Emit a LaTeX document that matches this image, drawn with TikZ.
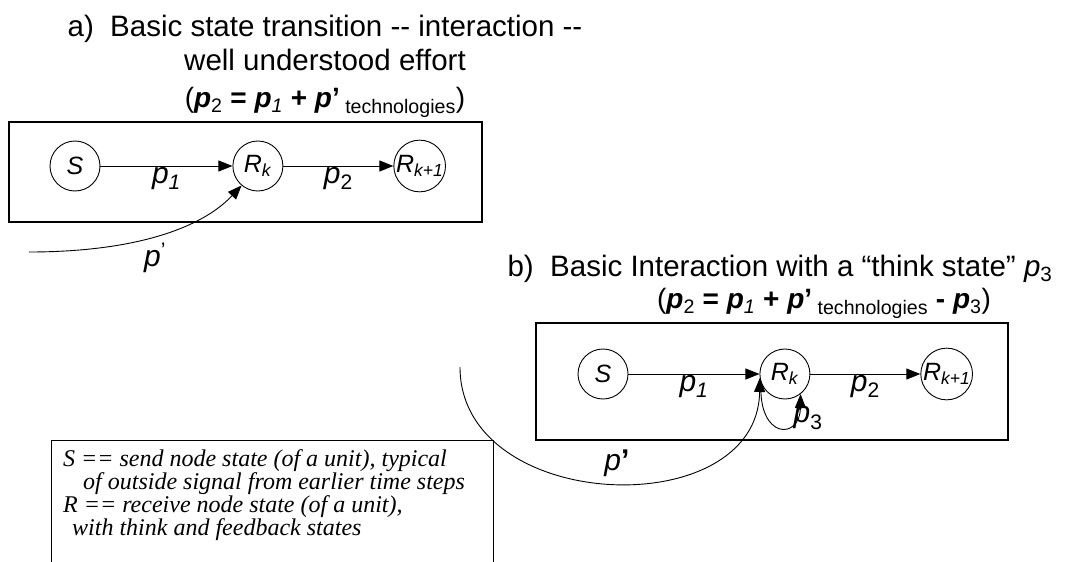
\documentclass[tikz,border=0pt]{standalone}
\usepackage{fontspec}
\setmainfont{Liberation Sans}[Ligatures=TeXOff]
\newfontfamily\legendfont{Liberation Serif}[Ligatures=TeXOff]
\usetikzlibrary{arrows.meta,positioning}

\newcommand{\titlesize}{\fontsize{29.5}{34}\selectfont}
\newcommand{\eqsize}{\fontsize{28}{34}\selectfont}
\newcommand{\lblsize}{\fontsize{30}{30}\selectfont}
\newcommand{\statesize}{\fontsize{25}{25}\selectfont}
\newcommand{\bp}{\textbf{\textit{p}}}

\begin{document}
\begin{tikzpicture}[
    x=1pt, y=1pt,
    >={Triangle[length=14pt, width=11pt]},
    state/.style={draw, circle, line width=0.9pt, minimum size=50pt, inner sep=0pt, font=\statesize},
    panel/.style={draw, line width=1.1pt, inner sep=0pt},
    title/.style={align=center, inner sep=0pt, font=\titlesize},
    lbl/.style={inner sep=1pt, font=\lblsize},
    arr/.style={->, line width=0.9pt},
]
\useasboundingbox (0,0) rectangle (1076,-562);

% a) title
\node[title, anchor=north] (titlea) at (325,-15) {a)\ \ Basic state transition -- interaction --\\ well understood effort\\[3pt]
    \eqsize(\bp\textsubscript{2} \textbf{=} \bp\textsubscript{\textit{1}} \textbf{+} \bp\textbf{’}\textsubscript{ technologies})};

% a) panel
\node[panel, minimum width=473pt, minimum height=100pt] (boxa) at (245.5,-172) {};
\node[state] (Sa) at (75,-166) {\textit{S}};
\node[state, right=132pt of Sa] (Rka) {\textit{R}\textsubscript{\textit{k}}};
\node[state, right=110pt of Rka] (Rk1a) {\textit{R}\textsubscript{\textit{k+1}}};

\draw[arr] (Sa) -- (Rka) node[lbl, midway, below] (p1a) {\textit{p}\textsubscript{\textit{1}}};
\draw[arr] (Rka) -- (Rk1a) node[lbl, midway, below] (p2a) {\textit{p}\textsubscript{2}};

% outside signal a)
\coordinate (pina) at (29,-252);
\draw[arr] (pina) .. controls (130,-252) and (200,-230) .. (Rka.230);
\node[lbl] (pprimea) at (155,-258) {\textit{p}\textsuperscript{’}};

% b) title
\node[title, anchor=base] (titleb) at (780,-276) {b)\ \ Basic Interaction with a “think state” \textit{p}\textsubscript{3}};
\node[title, font=\eqsize, below=6pt of titleb, xshift=44pt] (eqb) {(\bp\textsubscript{2} \textbf{=} \bp\textsubscript{\textit{1}} \textbf{+} \bp\textbf{’}\textsubscript{ technologies} \textbf{-} \bp\textsubscript{3})};

% b) panel
\node[panel, minimum width=472pt, minimum height=117pt] (boxb) at (772,-381.5) {};
\node[state] (Sb) at (603,-374) {\textit{S}};
\node[state, right=131pt of Sb] (Rkb) {\textit{R}\textsubscript{\textit{k}}};
\node[state, right=110pt of Rkb] (Rk1b) {\textit{R}\textsubscript{\textit{k+1}}};

\draw[arr] (Sb) -- (Rkb) node[lbl, midway, below] (p1b) {\textit{p}\textsubscript{\textit{1}}};
\draw[arr] (Rkb) -- (Rk1b) node[lbl, midway, below] (p2b) {\textit{p}\textsubscript{2}};

% think state loop
\draw[arr] (Rkb.200) .. controls (758,-440) and (800,-440) .. (Rkb.-52);
\node[lbl] (p3b) at (808,-418) {\textit{p}\textsubscript{3}};

% outside signal b)
\coordinate (pinb) at (460,-367);
\draw[arr] (pinb) .. controls (460,-514) and (758,-525) .. (Rkb.189);
\node[lbl] (pprimeb) at (617,-463) {\textit{p}\textbf{’}};

% legend
\node[panel, anchor=north west, minimum width=442pt, minimum height=160pt] (legend) at (51,-440) {};
\node[anchor=north west, inner sep=0pt, align=left, font=\legendfont\itshape\fontsize{24}{23}\selectfont] (legendtxt) at (63,-449) {S == send node state (of a unit), typical\\
\hspace*{20pt}of outside signal from earlier time steps\\
R == receive node state (of a unit),\\
\hspace*{9pt}with think and feedback states};

\end{tikzpicture}
\end{document}
